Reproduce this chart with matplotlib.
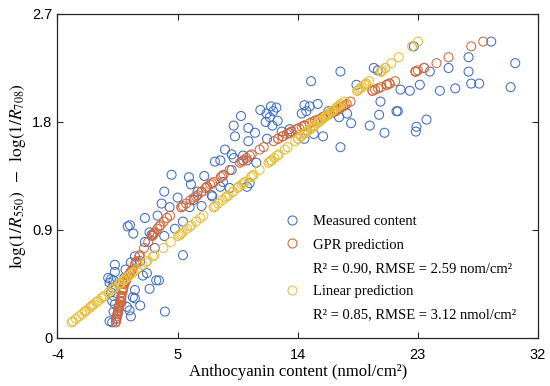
import matplotlib
matplotlib.use("Agg")
import matplotlib.pyplot as plt
from matplotlib.lines import Line2D

# index values (y) shared by all three series
index_vals = [0.14, 0.13, 0.16, 0.18, 0.20, 0.22, 0.22, 0.23, 0.25, 0.26,
              0.27, 0.28, 0.30, 0.31, 0.33, 0.34, 0.35, 0.38, 0.40, 0.41,
              0.42, 0.45, 0.46, 0.48, 0.48, 0.48, 0.49, 0.50, 0.50, 0.52,
              0.54, 0.55, 0.57, 0.61, 0.63, 0.64, 0.68, 0.69, 0.75, 0.80,
              0.85, 0.86, 0.87, 0.88, 0.91, 0.93, 0.94, 0.97, 1.00, 1.02,
              1.09, 1.09, 1.10, 1.12, 1.15, 1.17, 1.18, 1.19, 1.22, 1.22,
              1.25, 1.26, 1.26, 1.28, 1.29, 1.30, 1.34, 1.35, 1.36, 1.40,
              1.46, 1.47, 1.48, 1.48, 1.50, 1.52, 1.53, 1.57, 1.59, 1.64,
              1.66, 1.66, 1.68, 1.68, 1.70, 1.71, 1.71, 1.72, 1.72, 1.74,
              1.75, 1.76, 1.77, 1.77, 1.77, 1.79, 1.80, 1.81, 1.82, 1.84,
              1.84, 1.85, 1.86, 1.87, 1.87, 1.87, 1.89, 1.89, 1.89, 1.89,
              1.89, 1.90, 1.92, 1.93, 1.93, 1.94, 1.95, 1.97, 2.06, 2.06,
              2.07, 2.08, 2.09, 2.11, 2.11, 2.12, 2.12, 2.14, 2.22, 2.22,
              2.22, 2.23, 2.25, 2.25, 2.29, 2.34, 2.43, 2.47]

measured = [-0.1, 0.1, 0.4, 1.5, 0.5, 0.2, 4.05, 1.4, 0.6, 1.2,
            2.2, 0.3, 0.8, 0.1, 1.8, 1.65, 0.2, 0.0, 1.8, 2.9,
            0.1, 0.6, -0.1, 0.2, 3.4, 3.6, 0.0, -0.2, 1.0, 2.4,
            2.7, 0.3, 1.1, 0.3, 1.5, 2.2, 1.8, 5.4, 3.3, 2.55,
            4.0, 3.05, 1.68, 2.9, 4.8, 1.26, 1.43, 5.4, 2.55, 3.5,
            4.4, 5.9, 6.8, 3.8, 6.2, 5.0, 7.6, 7.55, 6.5, 4.0,
            8.9, 8.2, 10.2, 6.0, 10.4, 8.4, 5.85, 7.0, 4.55, 9.05,
            10.9, 7.8, 8.2, 10.2, 9.2, 9.9, 9.05, 8.55, 17.2, 10.3,
            11.7, 14.5, 9.3, 15.9, 15.2, 10.8, 20.5, 12.8, 22.85, 13.4,
            10.3, 22.9, 9.2, 12.1, 19.4, 18.0, 11.6, 12.5, 23.65, 11.9,
            17.1, 9.75, 20.1, 11.67, 14.3, 17.7, 12.17, 14.65, 16.3, 21.4,
            21.5, 11.2, 12.4, 12.0, 14.9, 14.5, 15.5, 20.2, 22.4, 24.65,
            21.7, 25.8, 29.95, 18.4, 23.15, 27.0, 27.6, 15.0, 26.8, 17.2,
            23.9, 20.0, 19.7, 25.3, 30.3, 26.8, 22.7, 28.5]

gpr = [0.39, 0.37, 0.43, 0.46, 0.50, 0.54, 0.54, 0.56, 0.60, 0.62,
       0.64, 0.66, 0.70, 0.72, 0.76, 0.78, 0.80, 0.86, 0.90, 0.92,
       0.94, 1.00, 1.04, 1.12, 1.12, 1.12, 1.16, 1.20, 1.20, 1.31,
       1.43, 1.49, 1.60, 1.80, 1.90, 1.95, 2.13, 2.17, 2.49, 2.80,
       3.10, 3.16, 3.22, 3.28, 3.48, 3.64, 3.72, 3.96, 4.20, 4.44,
       5.28, 5.28, 5.40, 5.64, 5.98, 6.25, 6.38, 6.50, 6.80, 6.80,
       7.10, 7.20, 7.20, 7.44, 7.58, 7.72, 8.23, 8.34, 8.45, 8.90,
       9.67, 9.80, 9.92, 9.92, 10.16, 10.40, 10.55, 11.15, 11.45, 12.20,
       12.53, 12.53, 12.87, 12.87, 13.20, 13.37, 13.37, 13.53, 13.53, 13.90,
       14.10, 14.30, 14.50, 14.50, 14.50, 14.90, 15.10, 15.30, 15.50, 15.87,
       15.87, 16.06, 16.24, 16.43, 16.43, 16.43, 16.80, 16.80, 16.80, 16.80,
       16.80, 16.95, 17.24, 17.38, 17.38, 17.53, 17.67, 17.96, 19.60, 19.60,
       19.80, 20.02, 20.23, 20.67, 20.67, 20.88, 20.88, 21.30, 22.83, 22.83,
       22.83, 23.00, 23.47, 23.47, 24.40, 25.30, 27.00, 27.90]

linear = [-2.83, -2.94, -2.61, -2.38, -2.16, -1.94, -1.94, -1.83, -1.61, -1.50,
          -1.39, -1.28, -1.05, -0.94, -0.72, -0.61, -0.50, -0.17, 0.06, 0.17,
          0.28, 0.61, 0.72, 0.94, 0.94, 0.94, 1.05, 1.16, 1.16, 1.39,
          1.61, 1.72, 1.94, 2.38, 2.61, 2.72, 3.16, 3.27, 3.94, 4.49,
          5.05, 5.16, 5.27, 5.38, 5.71, 5.93, 6.04, 6.38, 6.71, 6.93,
          7.71, 7.71, 7.82, 8.04, 8.37, 8.59, 8.71, 8.82, 9.15, 9.15,
          9.48, 9.59, 9.59, 9.81, 9.93, 10.04, 10.48, 10.59, 10.70, 11.15,
          11.81, 11.92, 12.03, 12.03, 12.25, 12.48, 12.59, 13.03, 13.25, 13.81,
          14.03, 14.03, 14.25, 14.25, 14.47, 14.58, 14.58, 14.69, 14.69, 14.92,
          15.03, 15.14, 15.25, 15.25, 15.25, 15.47, 15.58, 15.69, 15.80, 16.02,
          16.02, 16.13, 16.25, 16.36, 16.36, 16.36, 16.58, 16.58, 16.58, 16.58,
          16.58, 16.69, 16.91, 17.02, 17.02, 17.13, 17.24, 17.47, 18.46, 18.46,
          18.57, 18.68, 18.80, 19.02, 19.02, 19.13, 19.13, 19.35, 20.24, 20.24,
          20.24, 20.35, 20.57, 20.57, 21.02, 21.57, 22.57, 23.01]

x_ticks = [-4, 5, 14, 23, 32]
y_ticks = [0, 0.9, 1.8, 2.7]
y_tick_labels = ["0", "0.9", "1.8", "2.7"]

blue = "#3d6dc2"
orange = "#d0683a"
yellow = "#e6be3c"

plt.rcParams["mathtext.fontset"] = "stix"
plt.rcParams["axes.unicode_minus"] = False
serif = "Liberation Serif"
sans = "Liberation Sans"

fig = plt.figure(figsize=(5.5, 3.86), dpi=100)
ax = fig.add_axes([0.1045, 0.1244, 0.8736, 0.8394])

ax.scatter(measured, index_vals, s=42, facecolors="none", edgecolors=blue, linewidths=0.75)
ax.scatter(gpr, index_vals, s=42, facecolors="none", edgecolors=orange, linewidths=0.75)
ax.scatter(linear, index_vals, s=42, facecolors="none", edgecolors=yellow, linewidths=0.75)

ax.set_xlim(-4, 32)
ax.set_ylim(0, 2.7)
ax.set_xticks(x_ticks)
ax.set_yticks(y_ticks)
ax.set_yticklabels(y_tick_labels)
ax.tick_params(direction="in", length=4, width=0.8, top=True, right=True,
               labelsize=10.5, colors="#262626", labelcolor="black")
ax.tick_params(axis="x", pad=7)
for lab in ax.get_xticklabels() + ax.get_yticklabels():
    lab.set_fontfamily(sans)
for sp in ax.spines.values():
    sp.set_color("#262626")
    sp.set_linewidth(0.9)

ax.set_xlabel("Anthocyanin content (nmol/cm²)", family=serif, fontsize=12, labelpad=2)
ax.set_ylabel(r"$\mathrm{log(1/}R_{550}\mathrm{)}\;\;-\;\;\mathrm{log(1/}R_{708}\mathrm{)}$",
              fontsize=12.5, labelpad=3)

def circ(c):
    return Line2D([], [], ls="none", marker="o", markersize=6.5,
                  markerfacecolor="none", markeredgecolor=c, markeredgewidth=0.75)

blank = Line2D([], [], ls="none", marker=None)
handles = [circ(blue), circ(orange), blank, circ(yellow), blank]
labels = ["Measured content", "GPR prediction",
          "R² = 0.90, RMSE = 2.59 nom/cm²",
          "Linear prediction",
          "R² = 0.85, RMSE = 3.12 nmol/cm²"]
ax.legend(handles, labels, loc="lower right", bbox_to_anchor=(0.981, 0.012),
          frameon=False, prop={"family": serif, "size": 10.5},
          handlelength=1.0, handletextpad=0.9, labelspacing=0.68)

fig.savefig("out.png", dpi=100)
